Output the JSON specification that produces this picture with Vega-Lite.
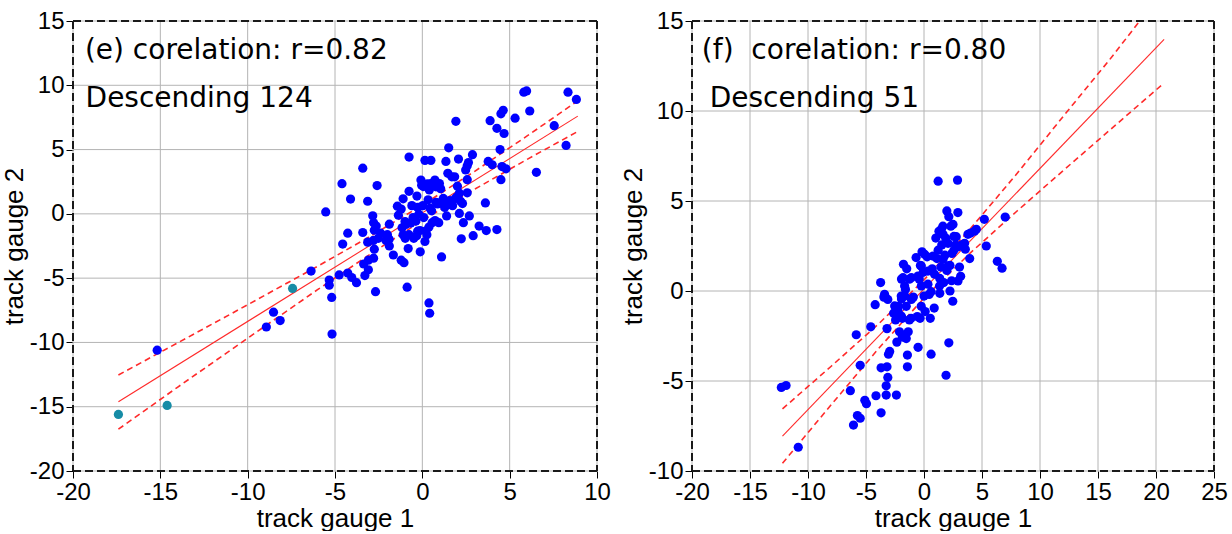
{
"$schema":"https://vega.github.io/schema/vega-lite/v6.json",
"padding":{"left":1,"top":9,"right":0,"bottom":0},
"spacing":9,
"config":{"view":{"stroke":null},"axis":{"labelFont":"Liberation Sans","labelFontSize":24,"labelColor":"#000","titleFont":"Liberation Sans","titleFontSize":26,"titleFontWeight":"normal","titleColor":"#000","grid":false,"domain":false,"ticks":true,"tickColor":"#000","tickSize":7,"tickWidth":1,"labelPadding":2,"titlePadding":2,"labelOverlap":false,"labelFlush":false},"axisX":{"titlePadding":1}},
"datasets":{
"L_pts":[
{"gx":-15.18,"gy":-10.6,"c":"b"},{"gx":-8.93,"gy":-8.8,"c":"b"},{"gx":-8.52,"gy":-7.65,"c":"b"},{"gx":-8.14,"gy":-8.3,"c":"b"},{"gx":-6.37,"gy":-4.45,"c":"b"},{"gx":-5.53,"gy":0.15,"c":"b"},{"gx":-5.33,"gy":-5.15,"c":"b"},{"gx":-5.33,"gy":-5.55,"c":"b"},{"gx":-5.19,"gy":-6.5,"c":"b"},{"gx":-5.17,"gy":-9.35,"c":"b"},
{"gx":-4.6,"gy":2.35,"c":"b"},{"gx":-4.56,"gy":-2.35,"c":"b"},{"gx":-4.76,"gy":-4.75,"c":"b"},{"gx":-4.27,"gy":-1.5,"c":"b"},{"gx":-4.11,"gy":1.15,"c":"b"},{"gx":-4.27,"gy":-4.6,"c":"b"},{"gx":-4.04,"gy":-4.95,"c":"b"},{"gx":-3.77,"gy":-5.35,"c":"b"},{"gx":-3.41,"gy":3.55,"c":"b"},{"gx":-3.41,"gy":-1.45,"c":"b"},
{"gx":-3.36,"gy":-3.9,"c":"b"},{"gx":-3.29,"gy":-4.8,"c":"b"},{"gx":-3.13,"gy":0.98,"c":"b"},{"gx":-3.13,"gy":-2.2,"c":"b"},{"gx":-3.09,"gy":-4.35,"c":"b"},{"gx":-3.09,"gy":-3.6,"c":"b"},{"gx":-2.84,"gy":-0.15,"c":"b"},{"gx":-2.79,"gy":-0.7,"c":"b"},{"gx":-2.75,"gy":-1.27,"c":"b"},{"gx":-2.75,"gy":-2.75,"c":"b"},
{"gx":-2.79,"gy":-3.45,"c":"b"},{"gx":-2.68,"gy":-6.05,"c":"b"},{"gx":-2.59,"gy":2.2,"c":"b"},{"gx":-2.64,"gy":-0.95,"c":"b"},{"gx":-2.52,"gy":-1.9,"c":"b"},{"gx":-2.0,"gy":-1.62,"c":"b"},{"gx":-1.89,"gy":-2.5,"c":"b"},{"gx":-1.89,"gy":-0.8,"c":"b"},{"gx":-1.66,"gy":-3.2,"c":"b"},{"gx":-1.43,"gy":0.6,"c":"b"},
{"gx":-1.37,"gy":-0.1,"c":"b"},{"gx":-1.21,"gy":0.37,"c":"b"},{"gx":-1.16,"gy":-1.08,"c":"b"},{"gx":-1.21,"gy":-3.6,"c":"b"},{"gx":-1.05,"gy":-3.8,"c":"b"},{"gx":-1.1,"gy":1.17,"c":"b"},{"gx":-1.1,"gy":-1.62,"c":"b"},{"gx":-0.98,"gy":-1.9,"c":"b"},{"gx":-0.94,"gy":-0.82,"c":"b"},{"gx":-0.87,"gy":-5.7,"c":"b"},
{"gx":-0.81,"gy":-2.7,"c":"b"},{"gx":-0.76,"gy":1.75,"c":"b"},{"gx":-0.76,"gy":4.42,"c":"b"},{"gx":-0.76,"gy":-1.62,"c":"b"},{"gx":-0.6,"gy":0.64,"c":"b"},{"gx":-0.53,"gy":-0.29,"c":"b"},{"gx":-0.49,"gy":-1.9,"c":"b"},{"gx":-0.37,"gy":-0.56,"c":"b"},{"gx":-0.31,"gy":1.38,"c":"b"},{"gx":-0.27,"gy":0.5,"c":"b"},
{"gx":-0.27,"gy":-1.35,"c":"b"},{"gx":-0.2,"gy":-0.03,"c":"b"},{"gx":-0.12,"gy":-2.95,"c":"b"},{"gx":-0.08,"gy":2.63,"c":"b"},{"gx":-0.04,"gy":2.23,"c":"b"},{"gx":0.03,"gy":0.64,"c":"b"},{"gx":0.08,"gy":-0.29,"c":"b"},{"gx":0.15,"gy":4.16,"c":"b"},{"gx":0.15,"gy":-2.15,"c":"b"},{"gx":0.26,"gy":-1.62,"c":"b"},
{"gx":0.33,"gy":1.09,"c":"b"},{"gx":0.38,"gy":-1.03,"c":"b"},{"gx":0.38,"gy":-6.93,"c":"b"},{"gx":0.42,"gy":-7.73,"c":"b"},{"gx":0.49,"gy":4.16,"c":"b"},{"gx":0.49,"gy":2.36,"c":"b"},{"gx":0.53,"gy":0.24,"c":"b"},{"gx":0.56,"gy":-0.69,"c":"b"},{"gx":0.6,"gy":2.23,"c":"b"},{"gx":0.72,"gy":2.63,"c":"b"},
{"gx":0.78,"gy":2.1,"c":"b"},{"gx":0.78,"gy":0.9,"c":"b"},{"gx":0.87,"gy":0.77,"c":"b"},{"gx":0.94,"gy":-0.69,"c":"b"},{"gx":0.98,"gy":2.36,"c":"b"},{"gx":1.05,"gy":1.96,"c":"b"},{"gx":1.1,"gy":-3.35,"c":"b"},{"gx":1.17,"gy":0.9,"c":"b"},{"gx":1.28,"gy":0.5,"c":"b"},{"gx":1.35,"gy":4.08,"c":"b"},
{"gx":1.39,"gy":-0.16,"c":"b"},{"gx":1.46,"gy":3.15,"c":"b"},{"gx":1.51,"gy":5.14,"c":"b"},{"gx":1.58,"gy":1.03,"c":"b"},{"gx":1.69,"gy":2.88,"c":"b"},{"gx":1.73,"gy":0.64,"c":"b"},{"gx":1.85,"gy":2.88,"c":"b"},{"gx":1.92,"gy":7.2,"c":"b"},{"gx":1.96,"gy":1.3,"c":"b"},{"gx":2.01,"gy":2.15,"c":"b"},
{"gx":2.07,"gy":4.26,"c":"b"},{"gx":2.12,"gy":0.03,"c":"b"},{"gx":2.19,"gy":0.98,"c":"b"},{"gx":2.23,"gy":-1.94,"c":"b"},{"gx":2.35,"gy":-0.69,"c":"b"},{"gx":2.48,"gy":3.41,"c":"b"},{"gx":2.57,"gy":2.66,"c":"b"},{"gx":2.57,"gy":1.64,"c":"b"},{"gx":2.64,"gy":3.99,"c":"b"},{"gx":2.69,"gy":-0.16,"c":"b"},
{"gx":2.87,"gy":4.6,"c":"b"},{"gx":2.91,"gy":-1.7,"c":"b"},{"gx":3.25,"gy":-0.95,"c":"b"},{"gx":3.61,"gy":0.85,"c":"b"},{"gx":3.66,"gy":-1.3,"c":"b"},{"gx":3.77,"gy":4.08,"c":"b"},{"gx":3.88,"gy":7.25,"c":"b"},{"gx":4.0,"gy":3.82,"c":"b"},{"gx":4.27,"gy":-1.22,"c":"b"},{"gx":4.27,"gy":6.65,"c":"b"},
{"gx":4.45,"gy":5.0,"c":"b"},{"gx":4.5,"gy":2.66,"c":"b"},{"gx":4.56,"gy":3.68,"c":"b"},{"gx":4.5,"gy":7.78,"c":"b"},{"gx":4.63,"gy":8.05,"c":"b"},{"gx":4.68,"gy":6.25,"c":"b"},{"gx":4.79,"gy":3.5,"c":"b"},{"gx":5.31,"gy":7.44,"c":"b"},{"gx":5.81,"gy":9.46,"c":"b"},{"gx":5.97,"gy":9.56,"c":"b"},
{"gx":6.15,"gy":8.0,"c":"b"},{"gx":6.53,"gy":3.23,"c":"b"},{"gx":7.55,"gy":6.86,"c":"b"},{"gx":8.23,"gy":5.32,"c":"b"},{"gx":8.34,"gy":9.46,"c":"b"},{"gx":8.82,"gy":8.9,"c":"b"},
{"gx":0.29,"gy":2.33,"c":"b"},{"gx":0.4,"gy":1.86,"c":"b"},{"gx":0.06,"gy":2.12,"c":"b"},{"gx":2.12,"gy":1.61,"c":"b"},{"gx":1.3,"gy":0.96,"c":"b"},{"gx":2.57,"gy":3.75,"c":"b"},{"gx":-2.38,"gy":-1.5,"c":"b"},{"gx":-2.08,"gy":-2.07,"c":"b"},{"gx":-2.8,"gy":-2.07,"c":"b"},{"gx":-1.9,"gy":-1.97,"c":"b"},
{"gx":-0.32,"gy":-1.71,"c":"b"},{"gx":0.21,"gy":-1.32,"c":"b"},{"gx":-0.13,"gy":-1.3,"c":"b"},{"gx":-0.99,"gy":-0.6,"c":"b"},{"gx":-0.66,"gy":-0.72,"c":"b"},{"gx":0.44,"gy":0.44,"c":"b"},{"gx":0.73,"gy":-0.52,"c":"b"},{"gx":1.0,"gy":0.85,"c":"b"},{"gx":1.6,"gy":0.75,"c":"b"},{"gx":1.9,"gy":1.2,"c":"b"},
{"gx":1.2,"gy":1.2,"c":"b"},{"gx":2.3,"gy":0.8,"c":"b"},
{"gx":-17.4,"gy":-15.6,"c":"t"},{"gx":-14.61,"gy":-14.9,"c":"t"},{"gx":-7.43,"gy":-5.8,"c":"t"}
],
"L_fit":[{"gx":-17.4,"gy":-14.62},{"gx":8.9,"gy":7.6}],
"L_band":[
{"gx":-17.4,"gy":-12.53,"side":"u"},{"gx":-14,"gy":-10.03,"side":"u"},{"gx":-10,"gy":-7.07,"side":"u"},{"gx":-6,"gy":-4.08,"side":"u"},{"gx":-3,"gy":-1.76,"side":"u"},{"gx":0,"gy":0.68,"side":"u"},{"gx":3,"gy":3.31,"side":"u"},{"gx":6,"gy":6.06,"side":"u"},{"gx":8.9,"gy":8.79,"side":"u"},
{"gx":-17.4,"gy":-16.75,"side":"l"},{"gx":-14,"gy":-13.47,"side":"l"},{"gx":-10,"gy":-9.67,"side":"l"},{"gx":-6,"gy":-5.9,"side":"l"},{"gx":-3,"gy":-3.15,"side":"l"},{"gx":0,"gy":-0.52,"side":"l"},{"gx":3,"gy":1.92,"side":"l"},{"gx":6,"gy":4.24,"side":"l"},{"gx":8.9,"gy":6.41,"side":"l"}
],
"R_pts":[
{"gx":-12.3,"gy":-5.36},{"gx":-11.89,"gy":-5.25},{"gx":-10.84,"gy":-8.68},{"gx":-6.35,"gy":-5.54},{"gx":-6.08,"gy":-7.45},{"gx":-5.84,"gy":-2.43},{"gx":-5.74,"gy":-6.92},{"gx":-5.5,"gy":-7.07},{"gx":-5.5,"gy":-4.13},{"gx":-5.1,"gy":-6.07},
{"gx":-4.96,"gy":-6.26},{"gx":-4.59,"gy":-1.99},{"gx":-4.21,"gy":-0.76},{"gx":-4.14,"gy":-5.82},{"gx":-3.74,"gy":0.47},{"gx":-3.7,"gy":-4.27},{"gx":-3.7,"gy":-6.77},{"gx":-3.46,"gy":-0.34},{"gx":-3.26,"gy":-5.27},{"gx":-3.26,"gy":-5.78},
{"gx":-3.19,"gy":-4.21},{"gx":-3.19,"gy":-2.09},{"gx":-3.12,"gy":-4.8},{"gx":-3.12,"gy":-0.47},{"gx":-3.06,"gy":-3.51},{"gx":-2.96,"gy":-3.36},{"gx":-2.62,"gy":-1.23},{"gx":-2.45,"gy":-1.61},{"gx":-2.38,"gy":-5.78},{"gx":-2.34,"gy":-2.84},
{"gx":-2.21,"gy":-0.85},{"gx":-2.11,"gy":-2.27},{"gx":-1.94,"gy":0.66},{"gx":-1.94,"gy":-0.44},{"gx":-1.87,"gy":-1.52},{"gx":-1.87,"gy":-2.56},{"gx":-1.77,"gy":1.48},{"gx":-1.66,"gy":-0.28},{"gx":-1.6,"gy":0.09},{"gx":-1.53,"gy":-0.85},
{"gx":-1.49,"gy":1.23},{"gx":-1.43,"gy":-4.21},{"gx":-1.43,"gy":-3.56},{"gx":-1.36,"gy":-2.27},{"gx":-1.26,"gy":-1.61},{"gx":-1.26,"gy":0.66},{"gx":-1.12,"gy":-1.52},{"gx":-1.09,"gy":-0.47},{"gx":-0.92,"gy":-0.34},{"gx":-0.68,"gy":1.86},
{"gx":-0.58,"gy":-1.42},{"gx":-0.51,"gy":-3.13},{"gx":-0.41,"gy":0.66},{"gx":-0.34,"gy":-1.52},{"gx":-0.31,"gy":1.42},{"gx":-0.24,"gy":-0.85},{"gx":-0.17,"gy":2.18},{"gx":-0.07,"gy":1.04},{"gx":0.0,"gy":-0.28},{"gx":0.1,"gy":-1.14},
{"gx":0.27,"gy":1.9},{"gx":0.34,"gy":0.38},{"gx":0.44,"gy":-0.19},{"gx":0.54,"gy":-1.52},{"gx":0.61,"gy":-0.04},{"gx":0.61,"gy":-3.51},{"gx":0.71,"gy":1.23},{"gx":0.88,"gy":-0.95},{"gx":1.02,"gy":2.94},{"gx":1.12,"gy":1.8},
{"gx":1.22,"gy":6.1},{"gx":1.22,"gy":2.27},{"gx":1.29,"gy":3.32},{"gx":1.36,"gy":0.7},{"gx":1.36,"gy":-0.13},{"gx":1.46,"gy":1.33},{"gx":1.53,"gy":2.56},{"gx":1.63,"gy":3.6},{"gx":1.7,"gy":0.47},{"gx":1.8,"gy":1.99},
{"gx":1.87,"gy":2.94},{"gx":1.9,"gy":-4.68},{"gx":1.97,"gy":4.45},{"gx":1.97,"gy":1.14},{"gx":2.07,"gy":2.65},{"gx":2.14,"gy":4.13},{"gx":2.14,"gy":-2.88},{"gx":2.24,"gy":0.0},{"gx":2.24,"gy":1.42},{"gx":2.31,"gy":3.6},
{"gx":2.38,"gy":0.57},{"gx":2.41,"gy":2.09},{"gx":2.48,"gy":-0.57},{"gx":2.58,"gy":3.03},{"gx":2.72,"gy":2.56},{"gx":2.89,"gy":6.16},{"gx":2.92,"gy":4.36},{"gx":3.06,"gy":1.33},{"gx":3.16,"gy":0.82},{"gx":3.26,"gy":2.56},
{"gx":3.5,"gy":2.65},{"gx":3.94,"gy":1.8},{"gx":4.01,"gy":3.22},{"gx":4.35,"gy":3.32},{"gx":5.2,"gy":3.98},{"gx":5.37,"gy":2.5},{"gx":6.32,"gy":1.65},{"gx":6.73,"gy":1.27},{"gx":7.0,"gy":4.11},
{"gx":2.5,"gy":3.7},{"gx":1.49,"gy":3.43},{"gx":1.64,"gy":3.15},{"gx":2.78,"gy":3.02},{"gx":2.99,"gy":2.47},{"gx":2.59,"gy":2.28},{"gx":3.56,"gy":2.32},{"gx":2.93,"gy":0.56},{"gx":2.07,"gy":1.39},{"gx":1.64,"gy":1.76},
{"gx":0.78,"gy":1.94},{"gx":0.05,"gy":2.04},{"gx":-0.23,"gy":1.39},{"gx":-1.81,"gy":0.74},{"gx":-1.09,"gy":0.74},{"gx":-0.52,"gy":0.83},{"gx":0.34,"gy":1.11},{"gx":0.91,"gy":0.93},{"gx":1.34,"gy":0.28},{"gx":-0.23,"gy":0.28},
{"gx":-1.67,"gy":0.28},{"gx":-3.4,"gy":-0.18},{"gx":-1.96,"gy":-0.28},{"gx":3.79,"gy":3.15},{"gx":4.51,"gy":3.43},{"gx":-1.67,"gy":-2.5},{"gx":-1.53,"gy":-2.64},{"gx":-2.53,"gy":-0.83},{"gx":-2.24,"gy":-1.11},{"gx":-1.96,"gy":-1.39}
],
"R_fit":[{"gx":-12.2,"gy":-8.06},{"gx":20.7,"gy":13.98}],
"R_band":[
{"gx":-12.2,"gy":-6.55,"side":"u"},{"gx":-8,"gy":-4.18,"side":"u"},{"gx":-4,"gy":-1.88,"side":"u"},{"gx":0,"gy":0.61,"side":"u"},{"gx":4,"gy":3.46,"side":"u"},{"gx":8,"gy":6.51,"side":"u"},{"gx":12,"gy":9.7,"side":"u"},{"gx":16,"gy":12.85,"side":"u"},{"gx":18.6,"gy":15.0,"side":"u"},{"gx":20.7,"gy":16.7,"side":"u"},
{"gx":-12.2,"gy":-9.57,"side":"l"},{"gx":-8,"gy":-6.32,"side":"l"},{"gx":-4,"gy":-3.26,"side":"l"},{"gx":0,"gy":-0.39,"side":"l"},{"gx":4,"gy":2.12,"side":"l"},{"gx":8,"gy":4.43,"side":"l"},{"gx":12,"gy":6.69,"side":"l"},{"gx":16,"gy":8.93,"side":"l"},{"gx":20.7,"gy":11.56,"side":"l"}
]
},
"hconcat":[
{
"width":524,"height":450,
"encoding":{
"x":{"field":"gx","type":"quantitative","scale":{"domain":[-20,10],"nice":false,"zero":false},"axis":{"title":"track gauge 1","values":[-20,-15,-10,-5,0,5,10],"labelExpr":"''+datum.value"}},
"y":{"field":"gy","type":"quantitative","scale":{"domain":[-20,15],"nice":false,"zero":false},"axis":{"title":"track gauge 2","values":[-20,-15,-10,-5,0,5,10,15],"labelExpr":"''+datum.value"}}
},
"layer":[
{"data":{"values":[{"gx":-20,"gy":15,"gy2":-20},{"gx":-15,"gy":15,"gy2":-20},{"gx":-10,"gy":15,"gy2":-20},{"gx":-5,"gy":15,"gy2":-20},{"gx":0,"gy":15,"gy2":-20},{"gx":5,"gy":15,"gy2":-20},{"gx":10,"gy":15,"gy2":-20}]},"mark":{"type":"rule","color":"#b4b4b4","strokeWidth":1},"encoding":{"y2":{"field":"gy2"}}},
{"data":{"values":[{"gy":-20,"gx":-20,"gx2":10},{"gy":-15,"gx":-20,"gx2":10},{"gy":-10,"gx":-20,"gx2":10},{"gy":-5,"gx":-20,"gx2":10},{"gy":0,"gx":-20,"gx2":10},{"gy":5,"gx":-20,"gx2":10},{"gy":10,"gx":-20,"gx2":10},{"gy":15,"gx":-20,"gx2":10}]},"mark":{"type":"rule","color":"#b4b4b4","strokeWidth":1},"encoding":{"x2":{"field":"gx2"}}},
{"data":{"values":[{"gx":-20,"gy":15,"gy2":-20},{"gx":10,"gy":15,"gy2":-20}]},"mark":{"type":"rule","color":"#1a1a1a","strokeWidth":2,"strokeDash":[8,4]},"encoding":{"y2":{"field":"gy2"}}},
{"data":{"values":[{"gy":-20,"gx":-20,"gx2":10},{"gy":15,"gx":-20,"gx2":10}]},"mark":{"type":"rule","color":"#1a1a1a","strokeWidth":2,"strokeDash":[8,4]},"encoding":{"x2":{"field":"gx2"}}},
{"data":{"name":"L_band"},"mark":{"type":"line","color":"#ff2a2a","strokeWidth":1.6,"strokeDash":[6,4],"clip":true},"encoding":{"detail":{"field":"side"}}},
{"data":{"name":"L_fit"},"mark":{"type":"line","color":"#ff2a2a","strokeWidth":1.1}},
{"data":{"name":"L_pts"},"mark":{"type":"circle","size":85,"opacity":1},"encoding":{"color":{"field":"c","type":"nominal","scale":{"domain":["b","t"],"range":["#0000ff","#168ca6"]},"legend":null}}},
{"data":{"values":[{"gx":-19.32,"gy":12.02,"label":"(e) corelation: r=0.82"},{"gx":-19.28,"gy":8.29,"label":"Descending 124"}]},"mark":{"type":"text","align":"left","baseline":"alphabetic","font":"DejaVu Sans","fontSize":28,"color":"#000"},"encoding":{"text":{"field":"label"}}}
]
},
{
"width":522,"height":450,
"encoding":{
"x":{"field":"gx","type":"quantitative","scale":{"domain":[-20,25],"nice":false,"zero":false},"axis":{"title":"track gauge 1","values":[-20,-15,-10,-5,0,5,10,15,20,25],"labelExpr":"''+datum.value"}},
"y":{"field":"gy","type":"quantitative","scale":{"domain":[-10,15],"nice":false,"zero":false},"axis":{"title":"track gauge 2","values":[-10,-5,0,5,10,15],"labelExpr":"''+datum.value"}}
},
"layer":[
{"data":{"values":[{"gx":-20,"gy":15,"gy2":-10},{"gx":-15,"gy":15,"gy2":-10},{"gx":-10,"gy":15,"gy2":-10},{"gx":-5,"gy":15,"gy2":-10},{"gx":0,"gy":15,"gy2":-10},{"gx":5,"gy":15,"gy2":-10},{"gx":10,"gy":15,"gy2":-10},{"gx":15,"gy":15,"gy2":-10},{"gx":20,"gy":15,"gy2":-10},{"gx":25,"gy":15,"gy2":-10}]},"mark":{"type":"rule","color":"#b4b4b4","strokeWidth":1},"encoding":{"y2":{"field":"gy2"}}},
{"data":{"values":[{"gy":-10,"gx":-20,"gx2":25},{"gy":-5,"gx":-20,"gx2":25},{"gy":0,"gx":-20,"gx2":25},{"gy":5,"gx":-20,"gx2":25},{"gy":10,"gx":-20,"gx2":25},{"gy":15,"gx":-20,"gx2":25}]},"mark":{"type":"rule","color":"#b4b4b4","strokeWidth":1},"encoding":{"x2":{"field":"gx2"}}},
{"data":{"values":[{"gx":-20,"gy":15,"gy2":-10},{"gx":25,"gy":15,"gy2":-10}]},"mark":{"type":"rule","color":"#1a1a1a","strokeWidth":2,"strokeDash":[8,4]},"encoding":{"y2":{"field":"gy2"}}},
{"data":{"values":[{"gy":-10,"gx":-20,"gx2":25},{"gy":15,"gx":-20,"gx2":25}]},"mark":{"type":"rule","color":"#1a1a1a","strokeWidth":2,"strokeDash":[8,4]},"encoding":{"x2":{"field":"gx2"}}},
{"data":{"name":"R_band"},"mark":{"type":"line","color":"#ff2a2a","strokeWidth":1.6,"strokeDash":[6,4],"clip":true},"encoding":{"detail":{"field":"side"}}},
{"data":{"name":"R_fit"},"mark":{"type":"line","color":"#ff2a2a","strokeWidth":1.1}},
{"data":{"name":"R_pts"},"mark":{"type":"circle","size":85,"opacity":1,"color":"#0000ff"}},
{"data":{"values":[{"gx":-19.15,"gy":12.87,"label":"(f)\u00a0 corelation: r=0.80"},{"gx":-18.47,"gy":10.2,"label":"Descending 51"}]},"mark":{"type":"text","align":"left","baseline":"alphabetic","font":"DejaVu Sans","fontSize":28,"color":"#000"},"encoding":{"text":{"field":"label"}}}
]
}
]
}
